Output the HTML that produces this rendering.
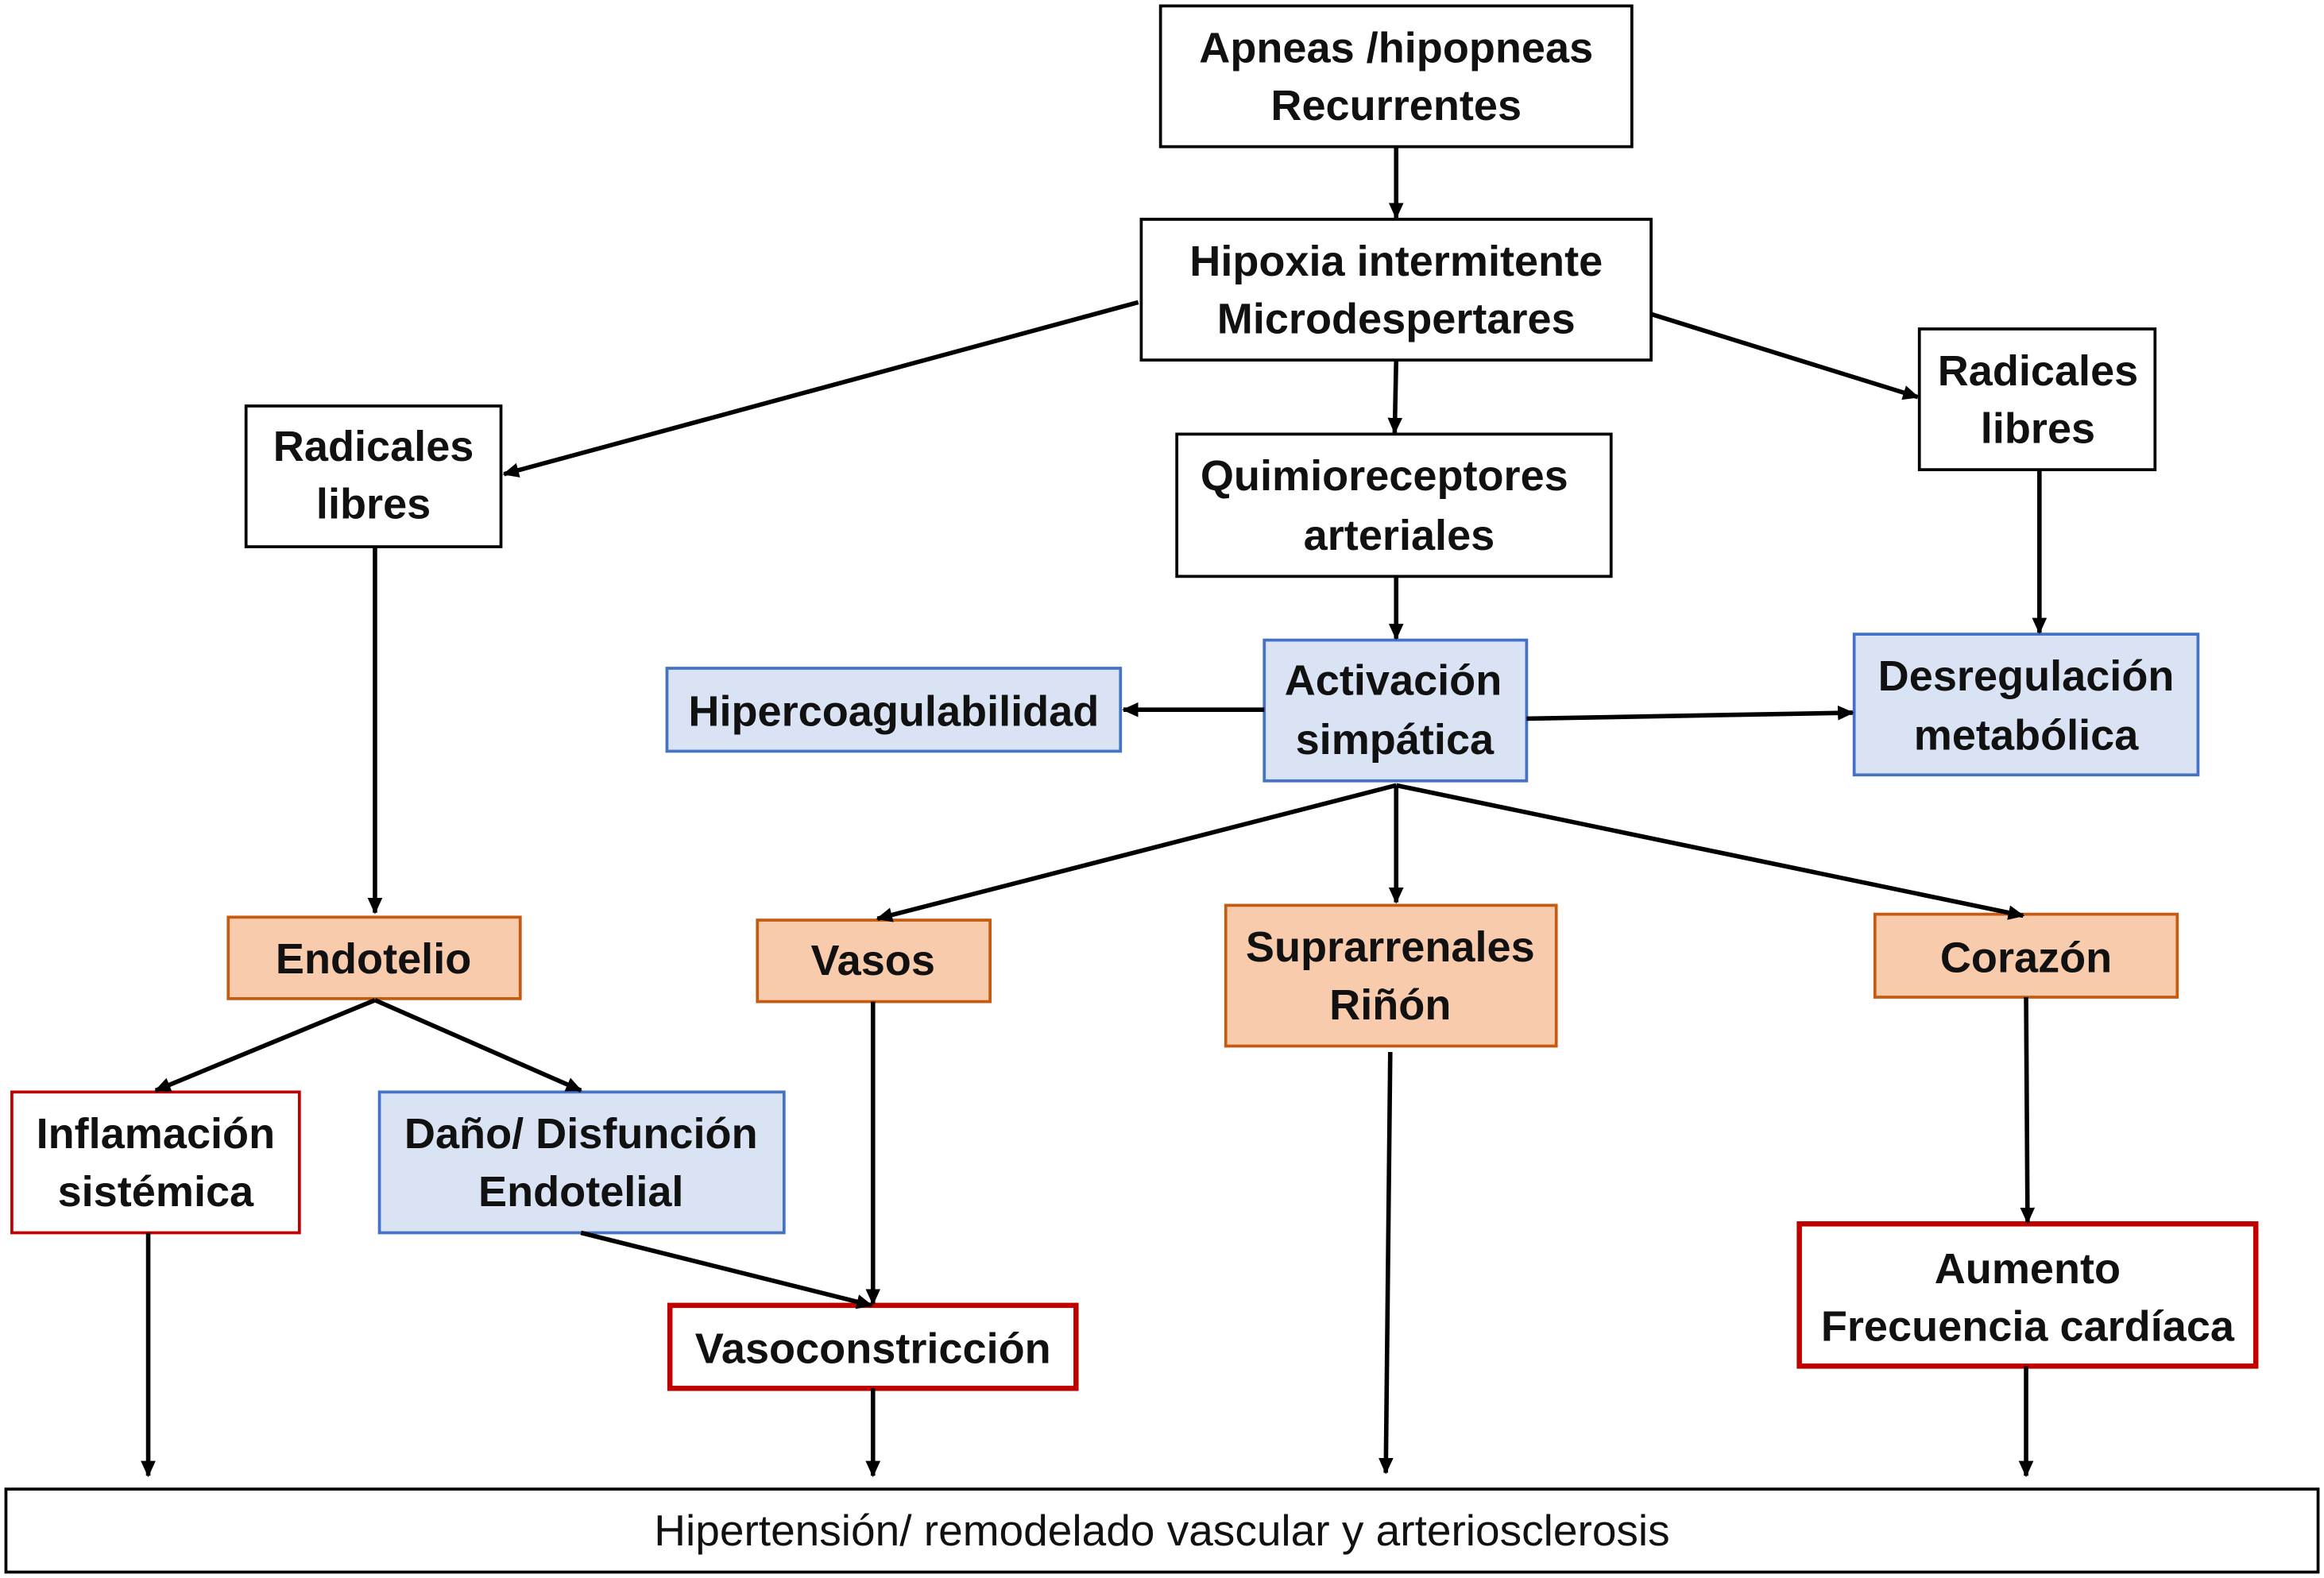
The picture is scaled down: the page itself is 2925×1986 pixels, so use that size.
<!DOCTYPE html>
<html><head><meta charset="utf-8"><style>
html,body{margin:0;padding:0;background:#fff;}
svg{display:block;}
text{font-family:"Liberation Sans",sans-serif;font-weight:bold;font-size:29px;fill:#111;text-anchor:middle;}
</style></head><body>
<svg width="2925" height="1986" viewBox="0 0 1568 1065" preserveAspectRatio="none" xmlns="http://www.w3.org/2000/svg">
<defs><marker id="a" markerWidth="11" markerHeight="10" refX="10" refY="5" orient="auto" markerUnits="userSpaceOnUse"><path d="M0,0 L11,5 L0,10 z" fill="#000"/></marker></defs>
<g fill="#fff" stroke="#000" stroke-width="2">
<rect x="783" y="4" width="318" height="95"/>
<rect x="770" y="148" width="344" height="95"/>
<rect x="166" y="274" width="172" height="95"/>
<rect x="1295" y="222" width="159" height="95"/>
<rect x="794" y="293" width="293" height="96"/>
<rect x="4" y="1005" width="1560" height="56"/>
</g>
<g fill="#DAE3F3" stroke="#4472C4" stroke-width="2">
<rect x="853" y="432" width="177" height="95"/>
<rect x="450" y="451" width="306" height="56"/>
<rect x="1251" y="428" width="232" height="95"/>
<rect x="256" y="737" width="273" height="95"/>
</g>
<g fill="#F8CBAD" stroke="#C55A11" stroke-width="2">
<rect x="154" y="619" width="197" height="55"/>
<rect x="511" y="621" width="157" height="55"/>
<rect x="827" y="611" width="223" height="95"/>
<rect x="1265" y="617" width="204" height="56"/>
</g>
<rect x="8" y="737" width="194" height="95" fill="#fff" stroke="#C00000" stroke-width="2"/>
<rect x="452" y="881" width="274" height="56" fill="#fff" stroke="#C00000" stroke-width="3.5"/>
<rect x="1214" y="826" width="308" height="96" fill="#fff" stroke="#C00000" stroke-width="3.5"/>
<g stroke="#000" stroke-width="3" marker-end="url(#a)" fill="none">
<line x1="942" y1="99" x2="942" y2="147"/>
<line x1="768" y1="204" x2="340" y2="320"/>
<line x1="1114" y1="212" x2="1294" y2="268"/>
<line x1="942" y1="243" x2="941" y2="292"/>
<line x1="942" y1="389" x2="942" y2="431"/>
<line x1="853" y1="479" x2="758" y2="479"/>
<line x1="1030" y1="485" x2="1250" y2="481"/>
<line x1="1376" y1="317" x2="1376" y2="427"/>
<line x1="253" y1="369" x2="253" y2="616"/>
<line x1="942" y1="530" x2="592" y2="620"/>
<line x1="942" y1="530" x2="942" y2="609"/>
<line x1="942" y1="530" x2="1365" y2="618"/>
<line x1="253" y1="675" x2="105" y2="736"/>
<line x1="253" y1="675" x2="392" y2="736"/>
<line x1="392" y1="832" x2="588" y2="881"/>
<line x1="589" y1="676" x2="589" y2="880"/>
<line x1="1367" y1="673" x2="1368" y2="825"/>
<line x1="100" y1="832" x2="100" y2="996"/>
<line x1="589" y1="937" x2="589" y2="996"/>
<line x1="938" y1="710" x2="935" y2="994"/>
<line x1="1367" y1="922" x2="1367" y2="996"/>
</g>
<text x="942" y="42">Apneas /hipopneas</text><text x="942" y="81">Recurrentes</text>
<text x="942" y="186">Hipoxia intermitente</text><text x="942" y="225">Microdespertares</text>
<text x="252" y="311">Radicales</text><text x="252" y="350">libres</text>
<text x="1375" y="260">Radicales</text><text x="1375" y="299">libres</text>
<text x="934" y="331">Quimioreceptores</text><text x="944" y="371">arteriales</text>
<text x="940" y="469">Activación</text><text x="941" y="509">simpática</text>
<text x="603" y="490">Hipercoagulabilidad</text>
<text x="1367" y="466">Desregulación</text><text x="1367" y="506">metabólica</text>
<text x="252" y="657">Endotelio</text>
<text x="589" y="658">Vasos</text>
<text x="938" y="649">Suprarrenales</text><text x="938" y="688">Riñón</text>
<text x="1367" y="656">Corazón</text>
<text x="105" y="775">Inflamación</text><text x="105" y="814">sistémica</text>
<text x="392" y="775">Daño/ Disfunción</text><text x="392" y="814">Endotelial</text>
<text x="589" y="920">Vasoconstricción</text>
<text x="1368" y="866">Aumento</text><text x="1368" y="905">Frecuencia cardíaca</text>
<text x="784" y="1043" style="font-weight:normal;font-size:29.5px">Hipertensión/ remodelado vascular y arteriosclerosis</text>
</svg>
</body></html>
